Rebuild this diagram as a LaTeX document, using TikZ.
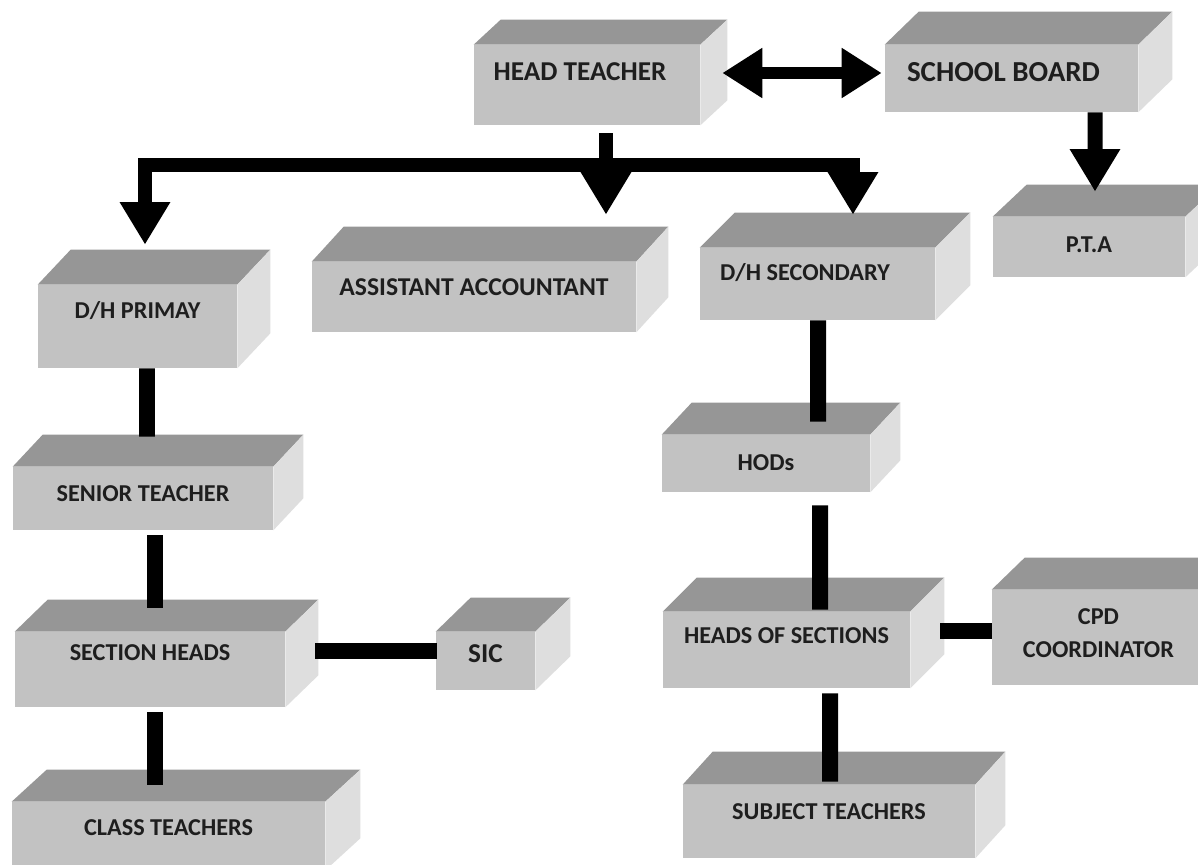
\documentclass[tikz,border=0pt]{standalone}
\usepackage{fontspec}
\setmainfont{Carlito}
\usepackage{tikz}
\usetikzlibrary{arrows.meta}

\definecolor{frontgray}{RGB}{194,194,194}
\definecolor{topgray}{RGB}{150,150,150}
\definecolor{sidegray}{RGB}{222,222,222}
\definecolor{textgray}{RGB}{30,30,30}

% top and side faces of a box, #2 = depth right, #3 = depth up
\newcommand{\cubefaces}[3]{%
	\fill[topgray] (#1.north west) -- ++(#2,-#3) -- ([shift={(#2,-#3)}]#1.north east) -- (#1.north east) -- cycle;
	\fill[sidegray] (#1.north east) -- ++(#2,-#3) -- ([shift={(#2,-#3)}]#1.south east) -- (#1.south east) -- cycle;
}

\begin{document}
\begin{tikzpicture}[x=0.02cm,y=-0.02cm,
	cube/.style={fill=frontgray, inner sep=0pt, text height=0.3cm, text=textgray, font=\bfseries\fontsize{13.8}{18.7}\selectfont},
	big/.style={font=\bfseries\fontsize{15.5}{18}\selectfont},
	link/.style={line width=0.32cm},
	arr/.style={line width=0.28cm, -{Triangle[length=0.85cm,width=0.95cm]}}]
	%\draw[help lines] (0,0) grid[step=100] (1198,865);
	\useasboundingbox (0,0) rectangle (1198,865);
	\node[cube,big,minimum width=4.52cm,minimum height=1.6cm,text depth=0.48cm] (ht) at (587,85) {HEAD TEACHER\kern0.28cm};
	\node[cube,big,minimum width=5.06cm,minimum height=1.34cm,text depth=0.16cm,font=\bfseries\fontsize{16.5}{18}\selectfont] (sb) at (1011.5,78.5) {SCHOOL BOARD\kern0.32cm};
	\node[cube,minimum width=3.84cm,minimum height=1.2cm,text depth=0.08cm] (pta) at (1089,247) {P.T.A};
	\node[cube,minimum width=3.98cm,minimum height=1.66cm,text depth=0.64cm] (dhp) at (137.5,326.5) {D/H PRIMAY};
	\node[cube,minimum width=6.48cm,minimum height=1.4cm,text depth=0.36cm,font=\bfseries\fontsize{14.6}{18}\selectfont] (acc) at (474,297) {ASSISTANT ACCOUNTANT};
	\node[cube,minimum width=4.7cm,minimum height=1.44cm,text depth=0.44cm] (dhs) at (817.5,284) {D/H SECONDARY\kern0.5cm};
	\node[cube,minimum width=5.2cm,minimum height=1.26cm,text depth=0.2cm] (sen) at (143,498.5) {SENIOR TEACHER};
	\node[cube,minimum width=5.4cm,minimum height=1.5cm,text depth=0.68cm] (sech) at (150,669.5) {SECTION HEADS};
	\node[cube,minimum width=6.26cm,minimum height=1.36cm,text depth=0.32cm] (cls) at (168.5,836) {CLASS TEACHERS};
	\node[cube,big,minimum width=1.98cm,minimum height=1.16cm,text depth=0.24cm] (sic) at (485.5,661) {SIC};
	\node[cube,minimum width=4.16cm,minimum height=1.14cm,text depth=0cm] (hod) at (766,463.5) {HODs};
	\node[cube,minimum width=4.94cm,minimum height=1.52cm,text depth=0.56cm] (hos) at (786.5,650) {HEADS OF SECTIONS};
	\node[cube,align=center,minimum width=4.26cm,minimum height=1.9cm,text height=0.95cm,text depth=0.16cm] (cpd) at (1098.5,637.5) {CPD\\COORDINATOR};
	\node[cube,minimum width=5.84cm,minimum height=1.46cm,text depth=0.4cm] (sub) at (829,821.5) {SUBJECT TEACHERS};
	\cubefaces{ht}{27}{25}
	\cubefaces{sb}{34}{33}
	\cubefaces{pta}{34}{32}
	\cubefaces{dhp}{33}{35}
	\cubefaces{acc}{32}{35}
	\cubefaces{dhs}{35}{35}
	\cubefaces{sen}{30}{32}
	\cubefaces{sech}{33}{32}
	\cubefaces{cls}{35}{32}
	\cubefaces{sic}{35}{34}
	\cubefaces{hod}{30}{32}
	\cubefaces{hos}{34}{34}
	\cubefaces{cpd}{33}{32}
	\cubefaces{sub}{30}{33}
	% arrows from the top
	\draw[line width=0.26cm, {Triangle[length=0.8cm,width=0.95cm]}-{Triangle[length=0.8cm,width=0.95cm]}] ([shift={(22,-12)}]ht.east) -- ([shift={(-3,-5.5)}]sb.west);
	\draw[arr, line width=0.3cm] ([shift={(83.5,0)}]sb.south) -- ([shift={(6,-25)}]pta.north);
	\coordinate (fork) at ([shift={(19,40)}]ht.south);
	\draw[arr] ([shift={(19,8)}]ht.south) -- ([shift={(132,-47)}]acc.north);
	\draw[arr] (fork) -| ([shift={(7.5,-40)}]dhp.north);
	\draw[arr] (fork) -| ([shift={(35.5,-33)}]dhs.north);
	% plain links
	\draw[link] ([shift={(9.5,0)}]dhp.south) -- ([shift={(4,-30)}]sen.north);
	\draw[link] ([shift={(12,5)}]sen.south) -- ([shift={(5,-24)}]sech.north);
	\draw[link] ([shift={(5,5)}]sech.south) -- ([shift={(-13.5,-17)}]cls.north);
	\draw[link] ([shift={(30,-18.5)}]sech.east) -- ([shift={(1,-10)}]sic.west);
	\draw[link] ([shift={(0.5,0)}]dhs.south) -- ([shift={(52,-13)}]hod.north);
	\draw[link] ([shift={(54,13)}]hod.south) -- ([shift={(33.5,-2)}]hos.north);
	\draw[link] ([shift={(43.5,5)}]hos.south) -- ([shift={(1,-3)}]sub.north);
	\draw[link] ([shift={(30,-19)}]hos.east) -- ([shift={(0,-6.5)}]cpd.west);
\end{tikzpicture}
\end{document}
